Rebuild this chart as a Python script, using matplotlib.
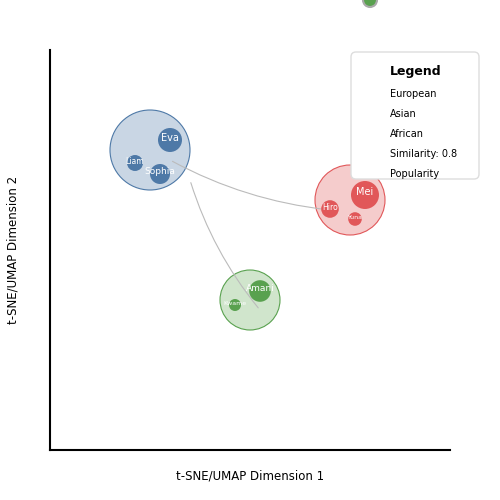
import matplotlib
matplotlib.use("Agg")
import matplotlib.pyplot as plt
from matplotlib.patches import Circle, FancyArrowPatch, FancyBboxPatch

groups = ["European", "Asian", "African"]
group_x = [2.5, 7.5, 5.0]
group_y = [7.5, 6.25, 3.75]
group_r = [1.0, 0.875, 0.75]
group_fill = ["#c9d6e4", "#f5cccc", "#d0e5cc"]
group_edge = ["#4e79a7", "#e15759", "#59a14f"]

names = ["Eva", "Liam", "Sophia", "Mei", "Hiro", "Yuna", "Amani", "Kwame"]
name_group = [0, 0, 0, 1, 1, 1, 2, 2]
name_x = [3.0, 2.125, 2.75, 7.875, 7.0, 7.625, 5.25, 4.625]
name_y = [7.75, 7.175, 6.9, 6.375, 6.025, 5.775, 3.975, 3.625]
name_r = [0.3, 0.2, 0.25, 0.35, 0.22, 0.17, 0.27, 0.15]
name_fs = [7, 5.5, 6.5, 7, 5.5, 4.5, 6.5, 4.5]

links_from = [(3.0, 7.25), (3.5, 6.75)]
links_to = [(7.0, 6.0), (5.25, 3.5)]
links_rad = [0.1, 0.1]

fig = plt.figure(figsize=(5, 5), dpi=100)
ax = fig.add_axes([0.1, 0.1, 0.8, 0.8])
ax.set_xlim(0, 10)
ax.set_ylim(0, 10)
for s in ["top", "right"]:
    ax.spines[s].set_visible(False)
for s in ["left", "bottom"]:
    ax.spines[s].set_linewidth(1.5)
ax.set_xticks([])
ax.set_yticks([])
ax.set_xlabel("t-SNE/UMAP Dimension 1", fontsize=8.5, labelpad=14)
ax.set_ylabel("t-SNE/UMAP Dimension 2", fontsize=8.5, labelpad=22)

for i in range(len(groups)):
    ax.add_patch(Circle((group_x[i], group_y[i]), group_r[i], facecolor=group_fill[i],
                        edgecolor=group_edge[i], lw=0.8, zorder=1))
for (p0, p1, rad) in zip(links_from, links_to, links_rad):
    ax.add_patch(FancyArrowPatch(p0, p1, connectionstyle=f"arc3,rad={rad}",
                                 arrowstyle="-", color="#bbbbbb", lw=0.8, zorder=2))
for n, g, x, y, r, fs in zip(names, name_group, name_x, name_y, name_r, name_fs):
    ax.add_patch(Circle((x, y), r, facecolor=group_edge[g], edgecolor="none", zorder=3))
    ax.text(x, y + r * 0.2, n, color="white", fontsize=fs, ha="center", va="center", zorder=4)

# legend box
fig.add_artist(FancyBboxPatch((0.702, 0.642), 0.256, 0.254, boxstyle="round,pad=0,rounding_size=0.01",
                              transform=fig.transFigure, facecolor="white", edgecolor="#dddddd", lw=1))
fig.text(0.78, 0.858, "Legend", fontsize=9, fontweight="bold", va="center")
for k, t in enumerate(["European", "Asian", "African", "Similarity: 0.8", "Popularity"]):
    fig.text(0.78, 0.812 - k * 0.04, t, fontsize=7, va="center")
fig.add_artist(Circle((0.74, 1.0), 0.014, transform=fig.transFigure, facecolor="#59a14f",
                      edgecolor="#aaaaaa", lw=1.5))
fig.savefig("out.png")
